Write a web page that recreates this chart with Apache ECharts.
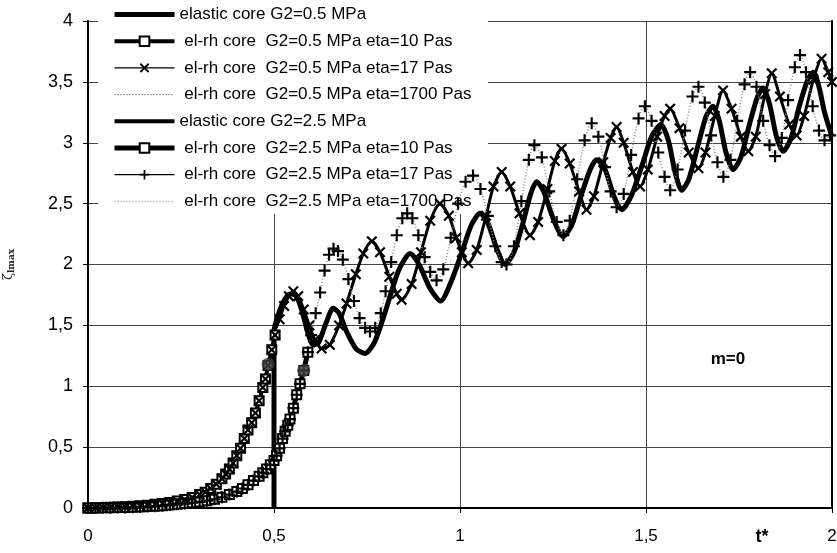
<!DOCTYPE html>
<html>
<head>
<meta charset="utf-8">
<script src="https://cdn.jsdelivr.net/npm/echarts@6/dist/echarts.min.js"></script>
<style>
html, body { margin: 0; padding: 0; background: #fff; }
#chart { width: 837px; height: 553px; }
</style>
</head>
<body>
<div id="chart"></div>
<script>
// Series names (legend order)
const seriesNames = [
  'elastic core G2=0.5 MPa',
  ' el-rh core  G2=0.5 MPa eta=10 Pas',
  ' el-rh core  G2=0.5 MPa eta=17 Pas',
  ' el-rh core  G2=0.5 MPa eta=1700 Pas',
  'elastic core G2=2.5 MPa',
  ' el-rh core  G2=2.5 MPa eta=10 Pas',
  ' el-rh core  G2=2.5 MPa eta=17 Pas',
  ' el-rh core  G2=2.5 MPa eta=1700 Pas'
];

// Early growth, soft core (G2=0.5 MPa): [t*, zeta]
const leftRise = [
  [0,0],[0.02,0.002],[0.04,0.004],[0.06,0.006],[0.08,0.008],[0.10,0.011],[0.12,0.014],
  [0.14,0.018],[0.16,0.023],[0.18,0.03],[0.20,0.037],[0.22,0.046],[0.24,0.057],[0.26,0.07],
  [0.28,0.087],[0.30,0.11],[0.315,0.13],[0.33,0.16],[0.345,0.195],[0.36,0.24],[0.37,0.28],
  [0.38,0.32],[0.39,0.37],[0.40,0.43],[0.41,0.49],[0.42,0.57],[0.43,0.64],[0.44,0.70],
  [0.45,0.78],[0.46,0.88],[0.47,0.99],[0.477,1.06],[0.484,1.17],[0.494,1.30],[0.503,1.42]
];

// Early growth, stiff core (G2=2.5 MPa)
const rightRise = [
  [0,0],[0.02,0.001],[0.04,0.002],[0.06,0.003],[0.08,0.004],[0.10,0.005],[0.12,0.007],
  [0.14,0.009],[0.16,0.012],[0.18,0.015],[0.20,0.019],[0.22,0.024],[0.24,0.03],[0.26,0.036],
  [0.28,0.043],[0.30,0.05],[0.32,0.06],[0.34,0.072],[0.36,0.088],[0.38,0.11],[0.40,0.135],
  [0.415,0.16],[0.43,0.19],[0.445,0.225],[0.46,0.26],[0.47,0.29],[0.48,0.32],[0.49,0.355],
  [0.50,0.39],[0.507,0.43],[0.515,0.49],[0.523,0.57],[0.53,0.63],[0.537,0.68],[0.543,0.73],
  [0.552,0.82],[0.561,0.93],[0.57,1.02],[0.58,1.13],[0.591,1.28]
];

// Oscillations after growth, G2=0.5 MPa viscoelastic core
const crossWave = [
  [0.515,1.55],[0.527,1.66],[0.54,1.74],[0.552,1.78],[0.565,1.74],[0.58,1.63],[0.595,1.50],
  [0.61,1.38],[0.628,1.31],[0.65,1.34],[0.675,1.50],[0.695,1.68],[0.72,1.92],[0.74,2.09],
  [0.763,2.19],[0.785,2.10],[0.81,1.90],[0.83,1.76],[0.843,1.71],[0.87,1.84],[0.895,2.10],
  [0.92,2.36],[0.946,2.50],[0.97,2.40],[0.99,2.22],[1.005,2.10],[1.022,2.01],[1.045,2.12],
  [1.07,2.40],[1.09,2.64],[1.112,2.76],[1.135,2.64],[1.16,2.42],[1.188,2.24],[1.21,2.35],
  [1.235,2.62],[1.255,2.85],[1.273,2.95],[1.295,2.83],[1.32,2.60],[1.34,2.45],[1.36,2.56],
  [1.385,2.84],[1.405,3.04],[1.421,3.13],[1.44,3.00],[1.465,2.76],[1.484,2.64],[1.505,2.78],
  [1.53,3.05],[1.55,3.22],[1.565,3.28],[1.59,3.12],[1.615,2.92],[1.641,2.79],[1.66,2.92],
  [1.685,3.22],[1.707,3.43],[1.73,3.28],[1.755,3.05],[1.775,2.93],[1.795,3.05],[1.82,3.40],
  [1.838,3.57],[1.86,3.38],[1.885,3.15],[1.905,3.06],[1.925,3.22],[1.95,3.52],[1.972,3.69],
  [1.99,3.58],[2.0,3.5]
];

// Oscillations after growth, G2=2.5 MPa viscoelastic core
const plusWave = [
  [0.60,1.42],[0.612,1.60],[0.624,1.77],[0.636,1.95],[0.648,2.08],[0.66,2.13],[0.672,2.11],
  [0.685,2.04],[0.70,1.88],[0.715,1.70],[0.73,1.56],[0.745,1.48],[0.758,1.45],[0.772,1.48],
  [0.787,1.60],[0.80,1.78],[0.815,2.02],[0.83,2.24],[0.845,2.38],[0.858,2.42],[0.872,2.38],
  [0.888,2.24],[0.905,2.06],[0.92,1.94],[0.937,1.87],[0.955,1.96],[0.975,2.22],[0.995,2.50],
  [1.015,2.68],[1.035,2.73],[1.055,2.62],[1.075,2.40],[1.095,2.15],[1.112,2.02],[1.125,2.00],
  [1.145,2.15],[1.165,2.52],[1.185,2.86],[1.20,2.98],[1.22,2.88],[1.24,2.60],[1.26,2.35],
  [1.278,2.24],[1.295,2.36],[1.315,2.70],[1.335,3.02],[1.354,3.16],[1.372,3.05],[1.39,2.80],
  [1.405,2.60],[1.421,2.47],[1.44,2.58],[1.46,2.90],[1.48,3.20],[1.497,3.30],[1.515,3.18],
  [1.533,2.92],[1.55,2.72],[1.565,2.61],[1.585,2.78],[1.605,3.10],[1.625,3.38],[1.641,3.46],
  [1.658,3.33],[1.675,3.06],[1.692,2.84],[1.708,2.72],[1.727,2.86],[1.745,3.18],[1.765,3.48],
  [1.78,3.58],[1.797,3.46],[1.815,3.18],[1.832,2.98],[1.847,2.89],[1.865,3.04],[1.882,3.35],
  [1.90,3.62],[1.914,3.72],[1.93,3.58],[1.948,3.30],[1.965,3.10],[1.98,3.02],[1.995,3.06]
];

// Elastic core, G2=0.5 MPa (starts at t*=0.5)
const softElastic = [
  [0.5,0],[0.5,1.45],[0.515,1.62],[0.53,1.72],[0.545,1.76],[0.56,1.74],[0.575,1.62],[0.59,1.45],
  [0.605,1.34],[0.62,1.36],[0.64,1.52],[0.659,1.64],[0.675,1.60],[0.695,1.45],[0.72,1.31],
  [0.745,1.27],[0.77,1.36],[0.80,1.62],[0.835,1.95],[0.866,2.09],[0.89,2.00],[0.92,1.80],
  [0.948,1.70],[0.975,1.85],[1.005,2.10],[1.03,2.32],[1.054,2.42],[1.075,2.34],[1.10,2.12],
  [1.121,2.00],[1.145,2.10],[1.17,2.35],[1.19,2.58],[1.206,2.68],[1.225,2.60],[1.25,2.38],
  [1.277,2.23],[1.30,2.32],[1.325,2.56],[1.35,2.78],[1.367,2.86],[1.39,2.78],[1.415,2.55],
  [1.435,2.45],[1.46,2.56],[1.49,2.82],[1.515,3.05],[1.54,3.15],[1.56,3.02],[1.578,2.76],
  [1.596,2.61],[1.615,2.70],[1.64,2.98],[1.662,3.22],[1.68,3.30],[1.697,3.18],[1.715,2.92],
  [1.734,2.78],[1.755,2.88],[1.778,3.15],[1.80,3.38],[1.815,3.45],[1.832,3.32],[1.85,3.06],
  [1.869,2.93],[1.89,3.04],[1.912,3.30],[1.935,3.52],[1.95,3.58],[1.965,3.46],[1.98,3.25],
  [2.0,3.05]
];

// Elastic core, G2=2.5 MPa: jump at t*=0.5
const stiffElasticStart = [[0.5,0],[0.5,1.42]];

// Marked transition points
const transitionDots = [[0.484,1.18],[0.58,1.13]];

const crossSymbol = 'path://M0,1.4L1.4,0L5,3.6L8.6,0L10,1.4L6.4,5L10,8.6L8.6,10L5,6.4L1.4,10L0,8.6L3.6,5Z';
const plusSymbol = 'path://M4.1,0H5.9V4.1H10V5.9H5.9V10H4.1V5.9H0V4.1H4.1Z';
const decimalComma = v => String(v).replace('.', ',');
const FONT = 'Liberation Sans, Arial, sans-serif';

const chart = echarts.init(document.getElementById('chart'), null, { renderer: 'canvas' });

const hiddenMarker = { opacity: 0 };
const legendLine = (w, extra) => Object.assign({ opacity: 1, width: w, color: '#000', type: 'solid' }, extra || {});

chart.setOption({
  animation: false,
  backgroundColor: '#fff',
  grid: { left: 88, right: 5, top: 21, bottom: 45, containLabel: false, outerBoundsMode: 'none' },
  graphic: [
    { type: 'rect', z: 1, shape: { x: 98, y: 0, width: 390, height: 214 }, style: { fill: '#fff' } },
    { type: 'text', z: 10, x: 762, y: 537, style: { text: 't*', font: 'bold 18px ' + FONT, fill: '#000', align: 'center', verticalAlign: 'middle' } },
    { type: 'text', z: 10, x: 728, y: 359, style: { text: 'm=0', font: 'bold 17px ' + FONT, fill: '#000', align: 'center', verticalAlign: 'middle' } }
  ],
  legend: {
    z: 2,
    orient: 'vertical',
    left: 112,
    top: 6,
    padding: 0,
    itemWidth: 60,
    itemHeight: 12,
    itemGap: 9.7,
    selectedMode: false,
    textStyle: { fontFamily: FONT, fontSize: 17, color: '#000' },
    data: [
      { name: seriesNames[0], itemStyle: hiddenMarker, lineStyle: legendLine(5) },
      { name: seriesNames[1], lineStyle: legendLine(4) },
      { name: seriesNames[2], lineStyle: legendLine(1.3) },
      { name: seriesNames[3], itemStyle: hiddenMarker, lineStyle: legendLine(1, { color: '#222', type: [1, 2] }) },
      { name: seriesNames[4], itemStyle: hiddenMarker, lineStyle: legendLine(4) },
      { name: seriesNames[5], lineStyle: legendLine(5) },
      { name: seriesNames[6], lineStyle: legendLine(1.3) },
      { name: seriesNames[7], itemStyle: hiddenMarker, lineStyle: legendLine(1.5, { color: '#999', type: [1, 2] }) }
    ]
  },
  xAxis: {
    type: 'value', min: 0, max: 2, interval: 0.5,
    axisLine: { show: true, onZero: false, lineStyle: { color: '#000', width: 2 } },
    axisTick: { show: true, length: 5, lineStyle: { color: '#000', width: 1 } },
    axisLabel: { margin: 20, fontFamily: FONT, fontSize: 17, color: '#000', formatter: decimalComma },
    splitLine: { show: true, lineStyle: { color: '#444', width: 1 } }
  },
  yAxis: [
    {
      type: 'value', min: 0, max: 4, interval: 0.5,
      name: '{z|ζ}{s|lmax}', nameLocation: 'middle', nameGap: 72, nameRotate: 90,
      nameTextStyle: {
        rich: {
          z: { fontFamily: 'DejaVu Serif', fontSize: 13, color: '#222' },
          s: { fontFamily: 'DejaVu Serif', fontSize: 9, fontWeight: 'bold', color: '#222', padding: [5, 0, 0, 0] }
        }
      },
      axisLine: { show: true, onZero: false, lineStyle: { color: '#000', width: 2 } },
      axisTick: { show: true, length: 5, lineStyle: { color: '#000', width: 1 } },
      axisLabel: { margin: 15, fontFamily: FONT, fontSize: 18, color: '#000', formatter: decimalComma },
      splitLine: { show: true, lineStyle: { color: '#444', width: 1 } }
    },
    {
      type: 'value', min: 0, max: 4, position: 'right',
      axisLine: { show: true, onZero: false, lineStyle: { color: '#000', width: 2 } },
      axisTick: { show: false }, axisLabel: { show: false }, splitLine: { show: false }
    }
  ],
  series: [
    {
      name: seriesNames[0], type: 'line', z: 3, data: softElastic, symbol: 'none', smooth: 0.25,
      lineStyle: { color: '#000', width: 5 }, itemStyle: { color: '#000' }, emphasis: { disabled: true }
    },
    {
      name: seriesNames[1], type: 'line', z: 4, data: leftRise, symbol: 'rect', symbolSize: 9, showAllSymbol: true,
      lineStyle: { color: '#000', width: 4 },
      itemStyle: { color: '#fff', borderColor: '#000', borderWidth: 2 }, emphasis: { disabled: true }
    },
    {
      name: seriesNames[2], type: 'line', z: 5, data: leftRise.concat(crossWave), symbol: crossSymbol, symbolSize: 11, showAllSymbol: true,
      lineStyle: { color: '#000', width: 1, opacity: 0 },
      itemStyle: { color: '#000' }, emphasis: { disabled: true }
    },
    {
      name: seriesNames[3], type: 'line', z: 3, data: leftRise.concat(crossWave), symbol: 'none', smooth: 0.3,
      lineStyle: { color: '#333', width: 1.2, type: [1, 2] },
      itemStyle: { color: '#333' }, emphasis: { disabled: true }
    },
    {
      name: seriesNames[4], type: 'line', z: 3, data: stiffElasticStart.concat(crossWave), symbol: 'none', smooth: 0.25,
      lineStyle: { color: '#000', width: 3 }, itemStyle: { color: '#000' }, emphasis: { disabled: true }
    },
    {
      name: seriesNames[5], type: 'line', z: 4, data: rightRise, symbol: 'rect', symbolSize: 9, showAllSymbol: true,
      lineStyle: { color: '#000', width: 5 },
      itemStyle: { color: '#fff', borderColor: '#000', borderWidth: 2 }, emphasis: { disabled: true }
    },
    {
      name: seriesNames[6], type: 'line', z: 5, data: rightRise.concat(plusWave), symbol: plusSymbol, symbolSize: 12, showAllSymbol: true,
      lineStyle: { color: '#000', width: 1, opacity: 0 },
      itemStyle: { color: '#000' }, emphasis: { disabled: true }
    },
    {
      name: seriesNames[7], type: 'line', z: 3, data: rightRise.concat(plusWave), symbol: 'none', smooth: 0.3,
      lineStyle: { color: '#888', width: 1.5, type: [1, 2] },
      itemStyle: { color: '#888' }, emphasis: { disabled: true }
    },
    {
      type: 'scatter', z: 6, data: transitionDots, symbol: 'circle', symbolSize: 13,
      itemStyle: { color: '#3c3c3c' }, emphasis: { disabled: true }, silent: true
    }
  ]
});
</script>
</body>
</html>
